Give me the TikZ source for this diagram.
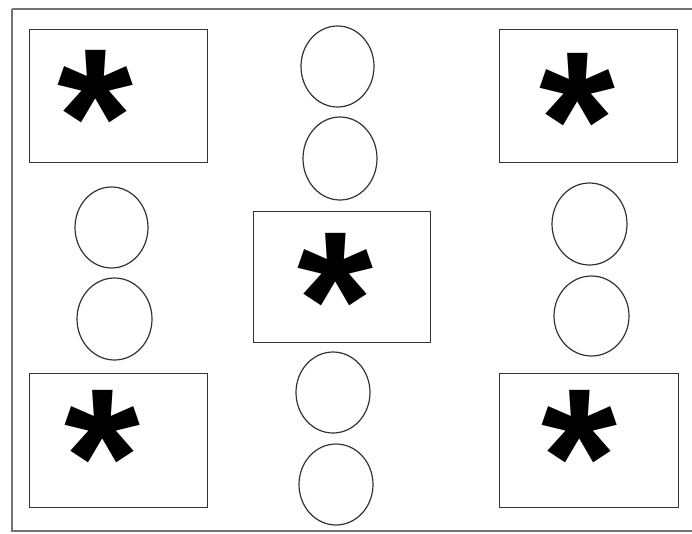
\documentclass[tikz,border=0pt]{standalone}
\usepackage{fontspec}
\setmainfont{Liberation Sans}
\newfontfamily\astfont{Liberation Sans}
\newcommand{\bigast}{\raisebox{-72pt}[\dimexpr\height-72pt\relax][0pt]{*}}
\begin{document}
\begin{tikzpicture}[x=1pt,y=-1pt,
  box/.style={draw=black!80,line width=1pt},
  ring/.style={draw=black!80,line width=1.2pt},
  star/.style={anchor=north,inner sep=0pt,font=\astfont\bfseries\fontsize{195}{195}\selectfont}]
\useasboundingbox (0,0) rectangle (692,533);
\draw[draw=black!55,line width=1.6pt] (12,9) -- (700,9) (12,9) -- (12,531) -- (700,531);
\draw[box] (29,29) rectangle (207,162);
\draw[box] (499,29) rectangle (677,162);
\draw[box] (253,211) rectangle (430,342);
\draw[box] (29,373) rectangle (207,507);
\draw[box] (499,373) rectangle (678,507);
\node[star] (s1) at (95,50) {\bigast};
\node[star] (s2) at (577,53) {\bigast};
\node[star] (s3) at (335,233) {\bigast};
\node[star] (s4) at (102,390) {\bigast};
\node[star] (s5) at (579,390) {\bigast};
\draw[ring] (337.5,66.5) ellipse [x radius=36.5,y radius=40.5];
\draw[ring] (340,158.5) ellipse [x radius=37,y radius=41.5];
\draw[ring] (333,392.5) ellipse [x radius=37,y radius=40.5];
\draw[ring] (336,484.5) ellipse [x radius=37,y radius=40.5];
\draw[ring] (111.5,227.5) ellipse [x radius=36.5,y radius=40.5];
\draw[ring] (114.5,319) ellipse [x radius=37.5,y radius=41];
\draw[ring] (589.5,224) ellipse [x radius=37.5,y radius=41];
\draw[ring] (591.5,316) ellipse [x radius=37.5,y radius=40];
\end{tikzpicture}
\end{document}
